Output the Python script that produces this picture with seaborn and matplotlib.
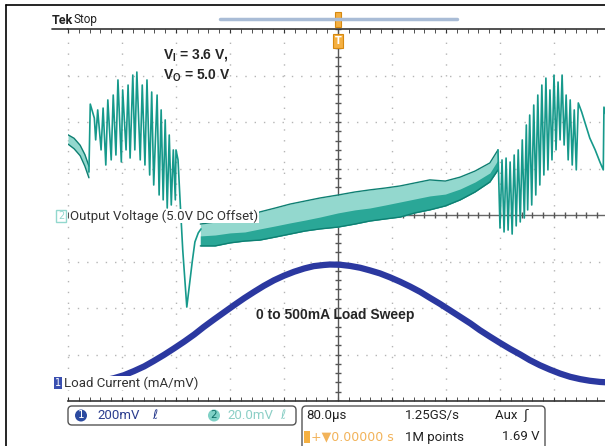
import matplotlib
matplotlib.use('Agg')
import matplotlib.pyplot as plt
from matplotlib.patches import FancyBboxPatch, Circle, Rectangle
import numpy as np
import seaborn as sns

sns.set_style('white')
plt.rcParams['font.family'] = ['DejaVu Sans']
plt.rcParams['mathtext.fontset'] = 'custom'
plt.rcParams['mathtext.rm'] = 'Liberation Sans:bold'
plt.rcParams['mathtext.it'] = 'Liberation Sans:bold'

# --- channel 1: load current (mA) vs time (us) ---
load_t = [-347, -332, -317, -302, -287, -273, -258, -243, -228, -213, -199, -184,
          -169, -154, -139, -124, -110, -95, -80, -65, -50, -36, -21, -12,
          3, 18, 33, 47, 62, 77, 92, 107, 122, 136, 151, 166, 181, 196, 210, 225,
          240, 255, 270, 284, 299, 314, 329, 344, 359, 373, 388, 400]
load_ma = [8, 18, 31, 49, 69, 92, 118, 146, 175, 206, 238, 270,
           301, 332, 362, 390, 415, 439, 459, 476, 490, 500, 505, 507,
           506, 501, 493, 482, 469, 452, 433, 412, 389, 364, 338, 310, 282, 254, 225, 197,
           170, 144, 120, 96, 74, 55, 38, 24, 14, 7, 2, 0]

# --- channel 2: output voltage ripple (mV, 5.0 V offset) ---
decay_t = [-400, -391, -382, -375, -369]
decay_hi = [34.5, 33.0, 30.0, 26.0, 21.0]
decay_lo = [30.5, 28.5, 25.5, 21.0, 16.0]

burst1_t = [-369, -367, -361, -359, -356, -351, -348, -344, -341, -336, -333, -329,
            -326, -321, -319, -314, -311, -308, -304, -301, -298, -293, -290, -286,
            -283, -279, -276, -273, -268, -265, -262, -259, -256, -253, -250, -247,
            -244, -241, -240, -237, -234, -230, -224, -221, -216, -212, -207, -203]
burst1_mv = [18.5, 47.7, 41.7, 32.3, 45.2, 28.0, 46.0, 21.5, 49.5, 23.7, 51.6, 25.8,
             58.1, 22.8, 53.8, 28.0, 55.9, 24.5, 60.2, 28.0, 61.5, 23.7, 55.9, 21.5,
             58.1, 17.2, 52.9, 12.9, 51.6, 8.6, 45.2, 6.5, 40.9, 3.0, 34.4, 4.3,
             28.0, 6.5, 28.0, 23.7, 6.5, -15.1, -39.6, -32.3, -20.2, -11.6, -7.7, -6.0]

band_t = [-204, -182, -160, -138, -116, -93, -71, -49, -27, 0, 25, 47, 70, 92,
          114, 136, 159, 181, 203, 225, 237]
band_top = [-3.9, -3.0, -3.0, -1.3, 1.3, 3.0, 4.7, 6.0, 7.3, 8.6, 9.9, 10.8, 11.6,
            12.5, 13.8, 15.1, 14.6, 16.3, 18.9, 22.4, 28.0]
band_mid = [-9.0, -8.6, -7.7, -7.3, -6.0, -4.7, -3.4, -2.2, -0.9, 0.9, 2.2, 3.0, 4.3,
            5.6, 6.9, 8.2, 9.0, 11.2, 14.2, 18.1, 23.7]
band_bot = [-13.3, -13.3, -12.0, -11.2, -10.8, -9.5, -8.2, -6.9, -6.0, -5.2, -3.9,
            -2.6, -1.7, -0.9, 0.9, 2.2, 3.9, 6.5, 9.9, 14.2, 19.4]

burst2_t = [237, 240, 243, 246, 249, 252, 255, 258, 261, 264, 267, 270, 273, 276,
            279, 281, 284, 287, 290, 293, 296, 299, 302, 305, 308, 311, 314, 317,
            320, 323, 326, 329, 332, 335, 338, 341, 344, 347, 350, 353, 356, 361,
            367, 373, 381, 388, 393, 394, 397]
burst2_mv = [28.0, -5.6, 23.7, -7.3, 24.5, -6.5, 22.8, -8.2, 25.8, -4.7, 28.0, -3.0,
             32.3, -1.3, 38.7, 2.2, 43.0, 4.3, 47.3, 8.6, 51.6, 12.9, 55.9, 17.2,
             58.9, 19.4, 53.8, 23.7, 60.2, 28.0, 57.2, 32.3, 60.2, 30.1, 51.6, 23.7,
             49.5, 21.5, 45.2, 19.4, 48.2, 44.3, 38.7, 33.1, 28.0, 22.8, 19.4, 46.4, 43.0]

TEAL = '#16998b'
TEAL_DARK = '#0e7f72'
TEAL_MID = '#2aa797'
TEAL_LIGHT = '#93d8ce'
BLUE = '#2b38a0'
UI_FONT = ['Liberation Sans Narrow', 'Roboto', 'DejaVu Sans']

W, H = 605, 446
fig = plt.figure(figsize=(6.05, 4.46), dpi=100)
ax = fig.add_axes([68 / W, 1 - 401 / H, 540 / W, 372 / H])
ax.set_xlim(-400, 400)
ax.set_ylim(-80, 80)

# graticule
for t in np.arange(-400, 400, 80):
    if t != 0:
        ax.axvline(t, color='#b5b5b5', lw=1, ls=(0, (1, 6.8)), clip_on=False, zorder=0)
for v in np.arange(-60, 80, 20):
    if v != 0:
        ax.axhline(v, color='#b5b5b5', lw=1, ls=(0, (1, 5.7)), zorder=0)
ax.axvline(0, color='#555555', lw=1, zorder=1)
ax.axhline(0, color='#666666', lw=1, zorder=1)
ax.vlines(np.arange(-400, 401, 16), -1.3, 1.3, color='#555555', lw=1, zorder=1)
ax.hlines(np.arange(-80, 81, 4), -4.4, 4.4, color='#555555', lw=1, zorder=1)
for s in ['left', 'right']:
    ax.spines[s].set_visible(False)
for s in ['top', 'bottom']:
    ax.spines[s].set_color('#333333')
    ax.spines[s].set_linewidth(1.2)
ax.set_xticks(np.arange(-400, 401, 80))
ax.set_xticks(np.arange(-400, 401, 16), minor=True)
ax.set_yticks([])
ax.tick_params(axis='x', which='both', direction='in', top=True, bottom=True,
               labelbottom=False, length=3, color='#333333')

# output voltage trace
ax.fill_between(decay_t, decay_lo, decay_hi, color=TEAL_LIGHT, lw=0, zorder=2)
sns.lineplot(x=decay_t, y=decay_hi, ax=ax, color=TEAL_DARK, lw=1, zorder=3)
sns.lineplot(x=decay_t, y=decay_lo, ax=ax, color=TEAL_DARK, lw=1, zorder=3)
sns.lineplot(x=burst1_t, y=burst1_mv, ax=ax, sort=False, estimator=None,
             color=TEAL, lw=1.2, zorder=3)
ax.fill_between(band_t, band_bot, band_top, color=TEAL_LIGHT, lw=0, zorder=2)
ax.fill_between(band_t, band_bot, band_mid, color=TEAL_MID, lw=0, zorder=2)
sns.lineplot(x=band_t, y=band_top, ax=ax, color=TEAL_DARK, lw=1, zorder=3)
sns.lineplot(x=band_t, y=band_bot, ax=ax, color=TEAL_DARK, lw=1, zorder=3)
sns.lineplot(x=burst2_t, y=burst2_mv, ax=ax, sort=False, estimator=None,
             color=TEAL, lw=1.2, zorder=3)
ax.set_xlabel('')
ax.set_ylabel('')

# load current on channel 1 scale (200 mA/div, ground at -3.6 div)
ax2 = ax.twinx()
ax2.set_ylim(-80, 1520)
sns.lineplot(x=load_t, y=load_ma, ax=ax2, color=BLUE, lw=4.5, zorder=3)
ax2.set_axis_off()

# overlay for screen annotations (pixel coordinates)
deco = fig.add_axes([0, 0, 1, 1], zorder=5)
deco.set_xlim(0, W)
deco.set_ylim(H, 0)
deco.axis('off')
deco.patch.set_alpha(0)

deco.plot([6, 605], [5, 5], color='black', lw=1.2)
deco.plot([6, 6], [5, 446], color='black', lw=1.2)
deco.plot([52, 68], [29, 29], color='#333333', lw=1.2)
deco.text(52, 20, 'Tek', fontsize=9, fontweight='bold', color='#222222',
          va='center', family=UI_FONT)
deco.text(73, 19, 'Stop', fontsize=8.5, color='#222222', va='center', family=UI_FONT)
deco.plot([220, 457], [19, 19], color='#a9bcd6', lw=2.5)
deco.add_patch(Rectangle((335, 12), 6, 15, fc='#f5b041', ec='#d68910', lw=0.8))
deco.add_patch(Rectangle((333, 34), 10, 14, fc='#f5b041', ec='#d68910', lw=0.8))
deco.text(338, 41, 'T', fontsize=7, color='white', ha='center', va='center',
          fontweight='bold')

deco.text(163, 55, r'$\mathrm{V_I}$ = 3.6 V,', fontsize=10, fontweight='bold',
          family='Liberation Sans', va='center')
deco.text(163, 76, r'$\mathrm{V_O}$ = 5.0 V', fontsize=10, fontweight='bold',
          family='Liberation Sans', va='center')
deco.text(335, 315, '0 to 500mA Load Sweep', fontsize=10, fontweight='bold',
          family='Liberation Sans', ha='center', va='center')

deco.add_patch(Rectangle((56, 210), 10, 12, fc='white', ec=TEAL_LIGHT, lw=1))
deco.text(61, 216, '2', fontsize=7, color=TEAL_LIGHT, ha='center', va='center')
deco.text(70, 216, 'Output Voltage (5.0V DC Offset)', fontsize=9.5, color='#333333',
          va='center', family=UI_FONT,
          bbox=dict(facecolor='white', edgecolor='none', pad=0.5))
deco.add_patch(Rectangle((54, 377), 8, 12, fc='#3a4fb0', ec='none'))
deco.text(58, 383, '1', fontsize=7, color='white', ha='center', va='center')
deco.text(64, 383, 'Load Current (mA/mV)', fontsize=9.5, color='#333333',
          va='center', family=UI_FONT,
          bbox=dict(facecolor='white', edgecolor='none', pad=0.5))

# status bar
deco.add_patch(FancyBboxPatch((68, 406), 228, 19, boxstyle='round,pad=0,rounding_size=4',
                              fc='white', ec='#555555', lw=1))
deco.add_patch(Circle((81, 415.5), 6, fc='#2b4aa0', ec='none'))
deco.text(81, 415.5, '1', fontsize=7.5, color='white', ha='center', va='center')
deco.text(97, 415.5, '200mV', fontsize=9.5, color='#2c3e8f', va='center', family=UI_FONT)
deco.text(152, 415.5, 'ℓ', fontsize=9, color='#2c3e8f', va='center')
deco.add_patch(Circle((214, 415.5), 6, fc='#7fd1c6', ec='none'))
deco.text(214, 415.5, '2', fontsize=7.5, color='#0d6e66', ha='center', va='center')
deco.text(227, 415.5, '20.0mV', fontsize=9.5, color='#8ccfc6', va='center', family=UI_FONT)
deco.text(280, 415.5, 'ℓ', fontsize=9, color='#8ccfc6', va='center')

deco.add_patch(FancyBboxPatch((302, 406), 243, 45, boxstyle='round,pad=0,rounding_size=4',
                              fc='white', ec='#555555', lw=1))
deco.text(306, 415, '80.0µs', fontsize=9.5, color='#222222', va='center', family=UI_FONT)
deco.text(405, 415, '1.25GS/s', fontsize=9.5, color='#222222', va='center', family=UI_FONT)
deco.text(495, 415, 'Aux  ʃ', fontsize=9.5, color='#222222', va='center', family=UI_FONT)
deco.add_patch(Rectangle((304, 431), 6, 12, fc='#f5b041', ec='none'))
deco.text(311, 437, '+▼0.00000 s', fontsize=9, color='#f2b35a', va='center',
          family=['DejaVu Sans'])
deco.text(405, 437, '1M points', fontsize=9.5, color='#222222', va='center', family=UI_FONT)
deco.text(540, 437, '1.69 V', fontsize=9.5, color='#222222', va='center', ha='right',
          family=UI_FONT)

fig.savefig('out.png', dpi=100)
